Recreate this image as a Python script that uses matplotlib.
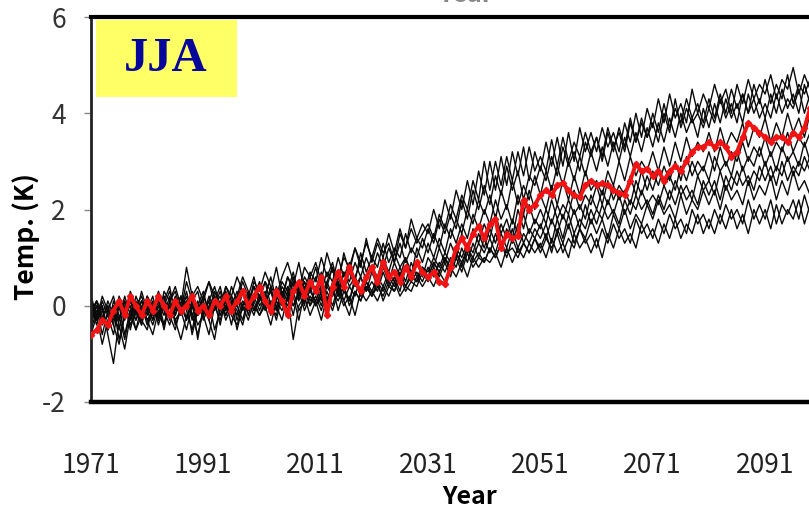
import numpy as np
import matplotlib
matplotlib.use("Agg")
import matplotlib.pyplot as plt
from matplotlib import font_manager

# ------------------------------------------------------------------ data ----
YEARS = list(range(1971, 2101))
XTICKS = [1971, 1991, 2011, 2031, 2051, 2071, 2091]
YTICKS = [-2, 0, 2, 4, 6]
PANEL_LABEL = "JJA"

# ensemble members (JJA temperature anomaly, K), one row per decade
run01 = [-0.2, 0.1, -0.3, 0.0, -0.4, 0.2, -0.1, 0.1, -0.2, 0.3,
         -0.1, 0.2, -0.3, 0.1, 0.4, -0.2, 0.2, 0.0, 0.3, -0.1,
         0.2, 0.5, 0.0, 0.3, -0.1, 0.4, 0.1, 0.5, 0.2, 0.6,
         0.1, 0.5, 0.3, 0.8, 0.2, 0.6, 0.4, 0.9, 0.3, 0.7,
         0.5, 1.0, 0.6, 0.9, 0.4, 1.1, 0.7, 1.2, 0.8, 1.4,
         0.9, 1.3, 1.0, 1.5, 1.1, 1.6, 1.2, 1.8, 1.4, 1.7,
         1.5, 2.0, 1.6, 2.2, 1.8, 2.4, 2.0, 2.6, 2.1, 2.8,
         2.3, 3.0, 2.4, 3.1, 2.5, 3.2, 2.7, 3.3, 2.6, 3.2,
         2.8, 3.4, 2.9, 3.5, 2.9, 3.6, 3.0, 3.7, 3.2, 3.6,
         3.2, 3.7, 3.3, 3.6, 3.2, 3.8, 3.4, 4.0, 3.5, 4.1,
         3.7, 4.3, 3.8, 4.4, 3.9, 4.2, 3.8, 4.5, 4.0, 4.4,
         4.1, 4.6, 4.2, 4.5, 4.0, 4.6, 4.2, 4.7, 4.3, 4.6,
         4.4, 4.8, 4.3, 4.7, 4.5, 4.95, 4.4, 4.8, 4.5, 4.9]
run02 = [0.1, -0.2, 0.0, -0.5, -0.1, -0.3, 0.2, -0.2, 0.0, -0.4,
         0.1, -0.1, 0.3, 0.0, -0.2, 0.2, -0.1, 0.5, 0.1, 0.3,
         -0.2, 0.1, 0.4, 0.0, 0.3, -0.1, 0.2, 0.6, 0.3, 0.1,
         0.4, 0.2, 0.6, 0.1, 0.5, 0.3, 0.7, 0.2, 0.6, 0.4,
         0.8, 0.3, 0.7, 0.5, 1.0, 0.6, 0.9, 0.5, 1.1, 0.7,
         1.0, 0.8, 1.3, 0.9, 1.2, 1.0, 1.5, 1.1, 1.4, 1.2,
         1.6, 1.3, 1.8, 1.5, 1.9, 1.6, 2.2, 1.8, 2.4, 2.0,
         2.5, 2.1, 2.7, 2.3, 2.9, 2.4, 2.8, 2.2, 2.7, 2.5,
         2.9, 2.6, 3.1, 2.7, 3.3, 2.9, 3.2, 2.8, 3.4, 3.1,
         3.5, 3.0, 3.6, 3.2, 3.7, 3.3, 3.9, 3.4, 3.8, 3.5,
         4.0, 3.6, 4.2, 3.7, 4.1, 3.8, 4.3, 3.9, 4.2, 3.8,
         4.3, 3.9, 4.4, 4.0, 4.5, 4.1, 4.4, 4.0, 4.6, 4.2,
         4.7, 4.2, 4.6, 4.3, 4.8, 4.2, 4.6, 4.4, 4.7, 4.5]
run03 = [-0.3, 0.0, -0.6, -0.1, 0.2, -0.3, 0.1, -0.5, 0.0, 0.2,
         -0.2, 0.1, -0.4, 0.0, 0.3, -0.1, 0.2, -0.3, 0.1, -0.2,
         0.2, -0.1, 0.3, 0.0, 0.4, 0.1, -0.2, 0.3, 0.0, 0.4,
         0.2, 0.5, 0.0, 0.4, 0.1, 0.6, 0.3, 0.5, 0.0, 0.6,
         0.3, 0.7, 0.4, 0.8, 0.2, 0.7, 0.5, 0.9, 0.6, 1.0,
         0.7, 1.1, 0.8, 1.2, 0.9, 1.3, 0.9, 1.2, 1.0, 1.4,
         1.1, 1.5, 1.2, 1.7, 1.4, 1.8, 1.5, 2.0, 1.7, 2.2,
         1.9, 2.3, 1.8, 2.4, 2.0, 2.6, 2.1, 2.5, 2.2, 2.7,
         2.3, 2.8, 2.4, 2.9, 2.5, 3.0, 2.6, 3.1, 2.7, 3.2,
         2.8, 3.3, 2.9, 3.4, 3.0, 3.5, 3.1, 3.6, 3.2, 3.7,
         3.3, 3.8, 3.4, 3.9, 3.5, 4.0, 3.6, 3.9, 3.5, 4.1,
         3.7, 4.2, 3.8, 4.3, 3.9, 4.2, 3.8, 4.4, 4.0, 4.3,
         3.9, 4.4, 4.0, 4.5, 4.1, 4.4, 4.0, 4.6, 4.2, 4.5]
run04 = [0.0, -0.4, 0.1, -0.2, -0.6, 0.0, -0.3, 0.1, -0.1, -0.4,
         0.2, -0.2, 0.0, -0.5, 0.1, 0.3, -0.1, 0.2, -0.3, 0.0,
         0.3, -0.2, 0.1, 0.4, -0.1, 0.2, 0.0, 0.3, -0.2, 0.2,
         0.5, 0.1, 0.3, -0.1, 0.4, 0.2, 0.6, 0.1, 0.5, 0.3,
         0.6, 0.2, 0.5, 0.8, 0.3, 0.7, 0.4, 0.6, 0.9, 0.5,
         0.8, 0.6, 1.0, 0.7, 1.1, 0.8, 1.0, 0.6, 1.2, 0.9,
         1.3, 1.0, 1.4, 1.1, 1.6, 1.3, 1.7, 1.4, 1.9, 1.6,
         2.0, 1.7, 2.2, 1.8, 2.1, 1.7, 2.3, 1.9, 2.4, 2.0,
         2.3, 2.0, 2.5, 2.1, 2.6, 2.2, 2.7, 2.3, 2.8, 2.4,
         2.6, 2.3, 2.8, 2.5, 3.0, 2.6, 3.1, 2.7, 3.0, 2.8,
         3.2, 2.8, 3.3, 2.9, 3.4, 3.0, 3.5, 3.1, 3.4, 3.2,
         3.6, 3.2, 3.7, 3.3, 3.6, 3.4, 3.8, 3.3, 3.7, 3.5,
         3.9, 3.4, 3.8, 3.5, 4.0, 3.6, 3.9, 3.5, 4.0, 3.7]
run05 = [-0.1, 0.1, -0.4, -0.2, 0.0, -0.7, -0.2, 0.1, -0.3, 0.0,
         -0.4, 0.0, -0.2, 0.2, -0.3, 0.1, -0.1, 0.3, -0.2, 0.1,
         -0.3, 0.0, 0.2, -0.2, 0.1, -0.4, 0.2, 0.0, 0.3, -0.1,
         0.2, 0.0, 0.4, -0.1, 0.3, 0.1, 0.5, 0.2, 0.4, 0.0,
         0.4, 0.1, 0.5, 0.2, 0.6, 0.3, 0.7, 0.4, 0.6, 0.3,
         0.7, 0.4, 0.8, 0.5, 0.9, 0.6, 1.0, 0.7, 0.9, 0.6,
         1.0, 0.8, 1.2, 0.9, 1.3, 1.0, 1.5, 1.1, 1.6, 1.3,
         1.7, 1.4, 1.9, 1.5, 1.8, 1.4, 2.0, 1.6, 2.1, 1.7,
         2.0, 1.7, 2.2, 1.8, 2.1, 1.9, 2.4, 2.0, 2.3, 2.1,
         2.5, 2.1, 2.6, 2.2, 2.5, 2.3, 2.7, 2.3, 2.8, 2.4,
         2.8, 2.5, 2.9, 2.6, 3.0, 2.6, 3.1, 2.7, 3.0, 2.8,
         3.2, 2.8, 3.3, 2.9, 3.2, 3.0, 3.4, 3.0, 3.3, 3.1,
         3.5, 3.1, 3.4, 3.2, 3.6, 3.2, 3.5, 3.3, 3.6, 3.4]
run06 = [-0.5, -0.1, -0.3, 0.1, -0.2, -0.5, 0.0, -0.3, 0.2, -0.1,
         0.1, -0.3, 0.2, -0.1, -0.4, 0.0, -0.2, 0.1, -0.6, -0.1,
         0.1, -0.3, 0.0, 0.2, -0.2, 0.1, -0.5, 0.0, 0.2, -0.1,
         0.1, 0.3, -0.1, 0.2, 0.0, 0.3, -0.2, 0.4, 0.1, 0.3,
         0.1, 0.4, 0.0, 0.5, 0.2, 0.4, 0.1, 0.6, 0.3, 0.5,
         0.3, 0.6, 0.4, 0.7, 0.5, 0.8, 0.5, 0.9, 0.6, 0.8,
         0.7, 1.0, 0.8, 1.1, 0.9, 1.2, 1.0, 1.3, 1.1, 1.5,
         1.2, 1.6, 1.3, 1.7, 1.4, 1.8, 1.5, 1.9, 1.5, 1.8,
         1.6, 2.0, 1.7, 2.1, 1.8, 2.2, 1.9, 2.1, 1.8, 2.3,
         2.0, 2.4, 2.1, 2.5, 2.2, 2.4, 2.1, 2.6, 2.3, 2.7,
         2.4, 2.8, 2.5, 2.7, 2.4, 2.9, 2.6, 3.0, 2.7, 2.9,
         2.6, 3.1, 2.8, 3.0, 2.7, 3.2, 2.8, 3.1, 2.9, 3.3,
         2.9, 3.2, 2.8, 3.3, 3.0, 3.2, 2.9, 3.4, 3.0, 3.3]
run07 = [0.2, -0.2, 0.0, -0.6, -1.2, -0.3, 0.1, -0.4, -0.1, 0.1,
         -0.3, -0.1, 0.1, -0.4, 0.0, -0.2, 0.2, -0.1, -0.5, 0.0,
         -0.2, 0.2, -0.1, 0.1, -0.3, 0.0, 0.3, -0.1, 0.1, 0.4,
         0.0, 0.2, -0.2, 0.3, 0.1, 0.4, 0.0, 0.2, 0.5, 0.1,
         0.3, 0.0, 0.4, 0.2, 0.5, 0.1, 0.4, 0.2, 0.6, 0.3,
         0.5, 0.3, 0.7, 0.4, 0.6, 0.3, 0.8, 0.5, 0.7, 0.5,
         0.8, 0.6, 0.9, 0.7, 1.0, 0.8, 1.2, 0.9, 1.3, 1.0,
         1.4, 1.1, 1.5, 1.2, 1.6, 1.3, 1.7, 1.3, 1.6, 1.4,
         1.7, 1.4, 1.8, 1.5, 1.9, 1.6, 2.0, 1.6, 2.1, 1.7,
         2.0, 1.8, 2.2, 1.9, 2.3, 1.9, 2.2, 2.0, 2.4, 2.1,
         2.3, 2.1, 2.5, 2.2, 2.6, 2.3, 2.5, 2.2, 2.7, 2.4,
         2.6, 2.3, 2.8, 2.4, 2.7, 2.5, 2.9, 2.5, 2.8, 2.6,
         3.0, 2.6, 2.9, 2.7, 3.1, 2.7, 3.0, 2.8, 3.1, 2.9]
run08 = [-0.4, 0.0, -0.2, -0.5, 0.1, -0.2, -0.7, -0.1, -0.3, 0.1,
         -0.1, -0.4, 0.0, 0.2, -0.2, -0.5, 0.0, -0.3, 0.1, -0.7,
         0.0, -0.2, 0.1, -0.4, 0.2, -0.1, 0.0, -0.3, 0.2, 0.0,
         -0.2, 0.1, 0.3, 0.0, -0.3, 0.2, 0.0, 0.3, -0.1, 0.2,
         0.0, 0.3, 0.1, 0.4, -0.1, 0.3, 0.1, 0.5, 0.2, 0.4,
         0.2, 0.5, 0.3, 0.6, 0.4, 0.7, 0.4, 0.6, 0.5, 0.8,
         0.6, 0.9, 0.7, 1.0, 0.8, 1.1, 0.9, 1.2, 1.0, 1.3,
         1.1, 1.4, 1.1, 1.5, 1.2, 1.6, 1.2, 1.5, 1.3, 1.6,
         1.4, 1.7, 1.3, 1.8, 1.4, 1.9, 1.5, 1.8, 1.6, 2.0,
         1.7, 2.1, 1.8, 2.0, 1.7, 2.2, 1.9, 2.3, 2.0, 2.2,
         1.9, 2.3, 2.0, 2.4, 2.1, 2.5, 2.2, 2.4, 2.1, 2.6,
         2.3, 2.6, 2.2, 2.7, 2.4, 2.8, 2.5, 2.7, 2.4, 2.9,
         2.6, 2.9, 2.5, 3.0, 2.6, 2.9, 2.7, 3.1, 2.8, 3.0]
run09 = [0.1, -0.3, -0.1, 0.0, -0.4, -0.8, -0.2, 0.0, -0.5, -0.2,
         0.0, -0.3, 0.1, -0.2, 0.2, -0.4, -0.1, 0.1, -0.2, -0.6,
         -0.1, 0.1, -0.5, -0.1, 0.0, 0.2, -0.3, 0.1, -0.1, 0.2,
         -0.1, 0.2, 0.0, -0.2, 0.3, -0.1, 0.2, -0.3, 0.3, 0.0,
         0.2, -0.1, 0.3, 0.0, 0.4, 0.1, -0.2, 0.3, 0.1, 0.4,
         0.2, 0.5, 0.1, 0.4, 0.3, 0.6, 0.3, 0.5, 0.4, 0.7,
         0.5, 0.8, 0.6, 0.9, 0.6, 1.0, 0.7, 1.1, 0.8, 1.0,
         0.9, 1.2, 1.0, 1.3, 1.0, 1.4, 1.1, 1.3, 1.1, 1.4,
         1.2, 1.5, 1.1, 1.6, 1.3, 1.7, 1.3, 1.6, 1.4, 1.8,
         1.5, 1.8, 1.4, 1.9, 1.6, 2.0, 1.6, 1.9, 1.7, 2.1,
         1.8, 2.2, 1.9, 2.1, 1.8, 2.3, 1.9, 2.2, 2.0, 2.4,
         2.1, 2.4, 2.0, 2.5, 2.2, 2.4, 2.1, 2.6, 2.2, 2.5,
         2.3, 2.7, 2.2, 2.6, 2.3, 2.8, 2.4, 2.6, 2.3, 2.7]
run10 = [-0.6, -0.2, -0.8, -0.3, 0.0, -0.4, -0.9, -0.2, -0.5, 0.0,
         -0.3, -0.6, -0.1, -0.4, 0.0, -0.3, -0.7, -0.2, 0.0, -0.4,
         -0.2, -0.6, 0.0, -0.3, 0.1, -0.2, -0.4, 0.0, -0.3, 0.1,
         -0.2, 0.0, -0.4, 0.1, -0.1, 0.2, -0.7, 0.0, 0.2, -0.2,
         0.1, -0.3, 0.2, -0.1, 0.3, 0.0, 0.2, -0.2, 0.3, 0.1,
         0.3, 0.1, 0.4, 0.2, 0.5, 0.2, 0.4, 0.3, 0.6, 0.4,
         0.6, 0.4, 0.7, 0.5, 0.8, 0.6, 0.9, 0.6, 1.0, 0.8,
         1.0, 0.9, 1.1, 0.8, 1.2, 0.9, 1.2, 1.0, 1.3, 1.1,
         1.3, 1.0, 1.4, 1.1, 1.3, 1.0, 1.5, 1.2, 1.4, 1.1,
         1.4, 1.0, 1.5, 1.2, 1.6, 1.3, 1.5, 1.2, 1.7, 1.4,
         1.6, 1.3, 1.7, 1.4, 1.8, 1.4, 1.7, 1.5, 1.9, 1.5,
         1.8, 1.5, 1.9, 1.6, 2.0, 1.6, 1.9, 1.5, 2.0, 1.7,
         2.0, 1.6, 2.1, 1.7, 2.0, 1.8, 2.2, 1.7, 2.1, 1.9]
run11 = [0.0, -0.3, 0.2, -0.1, -0.3, 0.1, -0.2, 0.3, 0.0, -0.2,
         0.2, 0.0, -0.3, 0.3, 0.1, 0.4, 0.0, 0.8, 0.2, 0.4,
         0.1, 0.5, 0.2, -0.1, 0.4, 0.2, 0.6, 0.3, 0.0, 0.5,
         0.3, 0.7, 0.4, 0.2, 0.6, 0.9, 0.5, 0.3, 0.8, 0.6,
         0.9, 0.5, 1.1, 0.7, 0.6, 1.0, 0.8, 1.2, 0.9, 1.3,
         1.0, 1.4, 1.1, 1.3, 0.9, 1.5, 1.2, 1.6, 1.3, 1.5,
         1.7, 1.4, 1.9, 1.6, 2.1, 1.8, 2.3, 2.0, 2.6, 2.2,
         3.0, 2.4, 3.0, 2.5, 3.1, 2.6, 3.2, 2.7, 3.3, 2.8,
         3.1, 2.8, 3.45, 2.9, 3.5, 3.0, 3.4, 3.1, 3.6, 3.2,
         3.5, 3.1, 3.7, 3.3, 3.6, 3.2, 3.8, 3.4, 3.9, 3.5,
         3.8, 3.4, 4.0, 3.6, 4.3, 3.7, 4.1, 3.8, 4.0, 3.7,
         4.1, 3.8, 4.3, 3.9, 4.2, 3.8, 4.4, 4.0, 4.3, 3.9,
         4.2, 3.9, 4.4, 4.0, 4.3, 4.1, 4.5, 4.0, 4.4, 4.1]
run12 = [-0.3, 0.1, -0.1, -0.5, -0.2, 0.0, -0.6, -0.1, 0.1, -0.3,
         -0.5, 0.0, -0.2, -0.4, 0.1, -0.3, -0.1, -0.5, 0.0, -0.2,
         0.0, -0.3, -0.7, 0.0, -0.2, 0.1, -0.1, -0.4, 0.1, -0.2,
         0.2, -0.1, 0.1, -0.3, 0.2, 0.0, 0.3, -0.1, 0.1, 0.4,
         0.0, 0.2, -0.2, 0.3, 0.1, 0.4, 0.0, 0.3, 0.1, 0.5,
         0.2, 0.4, 0.2, 0.5, 0.3, 0.6, 0.4, 0.7, 0.5, 0.8,
         0.6, 0.9, 0.7, 1.0, 0.7, 1.1, 0.8, 1.2, 0.9, 1.1,
         0.9, 1.2, 1.0, 1.3, 1.1, 1.2, 1.0, 1.3, 1.1, 1.4,
         1.1, 1.4, 1.2, 1.5, 1.1, 1.4, 1.2, 1.6, 1.3, 1.5,
         1.2, 1.6, 1.3, 1.7, 1.4, 1.6, 1.3, 1.8, 1.5, 1.7,
         1.4, 1.8, 1.5, 1.9, 1.6, 1.8, 1.5, 2.0, 1.7, 1.9,
         1.6, 2.0, 1.7, 2.1, 1.8, 2.0, 1.7, 2.2, 1.8, 2.1,
         1.8, 2.2, 1.7, 2.1, 1.9, 2.2, 1.8, 2.3, 1.9, 2.1]

# thick red curve
red_series = [-0.6, -0.5, -0.3, -0.4, -0.1, 0.1, -0.2, 0.2, 0.0, -0.2,
              0.1, -0.1, 0.2, 0.0, -0.2, 0.1, -0.1, 0.0, 0.2, -0.1,
              0.0, -0.2, 0.1, 0.0, 0.2, -0.1, 0.1, 0.3, 0.0, 0.2,
              0.4, 0.1, -0.1, 0.3, 0.1, -0.2, 0.3, 0.5, 0.2, 0.5,
              0.3, 0.6, -0.2, 0.4, 0.7, 0.4, 0.8, 0.5, 0.3, 0.6,
              0.8, 0.5, 0.9, 0.6, 0.7, 0.5, 0.8, 0.6, 0.9, 0.7,
              0.6, 0.7, 0.5, 0.45, 0.8, 1.2, 1.4, 1.2, 1.5, 1.65,
              1.4, 1.7, 1.8, 1.2, 1.5, 1.4, 1.45, 2.2, 2.0, 2.1,
              2.3, 2.4, 2.3, 2.5, 2.55, 2.4, 2.3, 2.25, 2.5, 2.6,
              2.5, 2.55, 2.5, 2.4, 2.35, 2.3, 2.6, 2.95, 2.8, 2.85,
              2.7, 2.8, 2.6, 2.8, 2.9, 2.8, 3.0, 3.2, 3.3, 3.3,
              3.4, 3.3, 3.4, 3.3, 3.1, 3.2, 3.5, 3.8, 3.7, 3.6,
              3.5, 3.4, 3.5, 3.5, 3.4, 3.6, 3.5, 3.7, 4.1, 4.4]

RUNS = [run01, run02, run03, run04, run05, run06,
        run07, run08, run09, run10, run11, run12]

# ----------------------------------------------------------------- fonts ----
_installed = {f.name for f in font_manager.fontManager.ttflist}
TICK_FONT = ("Liberation Sans Narrow" if "Liberation Sans Narrow" in _installed
             else "Noto Sans CJK KR")
LABEL_FONT = ["Noto Sans CJK KR", "DejaVu Sans"]

# ------------------------------------------------------------------ plot ----
W, H = 809, 512
fig = plt.figure(figsize=(W / 100, H / 100), dpi=100)
# axes runs past the right edge, like the cropped original
ax = fig.add_axes([91 / W, 1 - 402 / H, (846 - 91) / W, (402 - 17) / H])

for run in RUNS:
    ax.plot(YEARS, run, color="#0a0a0a", lw=1.0, zorder=2)
ax.plot(YEARS, red_series, color="#f01414", lw=2.8, marker="D", ms=3.2,
        mec="#f01414", zorder=3)

ax.set_xlim(1971, 2105.4)
ax.set_ylim(-2, 6)
ax.set_xticks(XTICKS)
ax.set_yticks(YTICKS)
ax.set_xticklabels([str(x) for x in XTICKS], family=TICK_FONT, fontsize=19)
ax.set_yticklabels([str(y) for y in YTICKS], family=TICK_FONT, fontsize=19)
ax.tick_params(axis="x", length=0, pad=36, colors="#222222")
ax.tick_params(axis="y", direction="out", length=5, width=1, pad=13,
               color="#888888", labelcolor="#333333")

ax.spines["right"].set_visible(False)
ax.spines["top"].set_linewidth(3)
ax.spines["bottom"].set_linewidth(3.2)
ax.spines["left"].set_linewidth(2)
ax.spines["left"].set_color("#222222")

fig.text(26 / W, 1 - 237 / H, "Temp. (K)", rotation=90, ha="center",
         va="center", family=LABEL_FONT, fontweight="bold", fontsize=19)
fig.text(470 / W, 1 - 497 / H, "Year", ha="center", va="center",
         family=LABEL_FONT, fontweight="bold", fontsize=18)
# remnant of the panel above, cut off by the top edge
fig.text(466 / W, 1 - 1.5 / H, "Year", ha="center", va="baseline",
         family=LABEL_FONT, fontweight="bold", fontsize=18, color="#888888")

# season tag
ax.add_patch(plt.Rectangle((96 / W, 1 - 97 / H), (237 - 96) / W, (97 - 20) / H,
                           transform=fig.transFigure, facecolor="#ffff66",
                           edgecolor="none", zorder=5, clip_on=False))
fig.text(166 / W, 1 - 59 / H, PANEL_LABEL, ha="center", va="center",
         family="Liberation Serif", fontweight="bold", fontsize=35,
         color="#06069a", zorder=6)

fig.savefig("out.png", dpi=100)
